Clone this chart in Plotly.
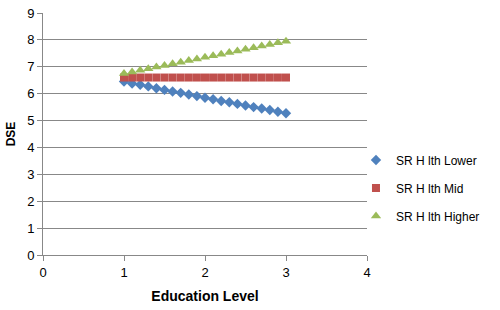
import plotly.graph_objects as go

x_vals = [1.0, 1.1, 1.2, 1.3, 1.4, 1.5, 1.6, 1.7, 1.8, 1.9, 2.0, 2.1, 2.2, 2.3, 2.4, 2.5, 2.6, 2.7, 2.8, 2.9, 3.0]
lower = [6.45, 6.38, 6.33, 6.27, 6.20, 6.14, 6.08, 6.03, 5.97, 5.91, 5.85, 5.79, 5.73, 5.68, 5.62, 5.56, 5.50, 5.45, 5.39, 5.33, 5.27]
mid = [6.6] * 21
higher = [6.75, 6.81, 6.87, 6.93, 6.99, 7.05, 7.11, 7.17, 7.23, 7.29, 7.35, 7.41, 7.47, 7.53, 7.59, 7.65, 7.71, 7.77, 7.83, 7.89, 7.95]

fig = go.Figure()
fig.add_trace(go.Scatter(x=x_vals, y=lower, mode="markers", name="SR H lth Lower", legendgroup="a",
                         marker=dict(symbol="diamond", size=8, color="#4F81BD")))
fig.add_trace(go.Scatter(x=x_vals, y=mid, mode="markers", name="SR H lth Mid", legendgroup="b",
                         marker=dict(symbol="square", size=8, color="#C0504D")))
fig.add_trace(go.Scatter(x=x_vals, y=higher, mode="markers", name="SR H lth Higher", legendgroup="c",
                         marker=dict(symbol="triangle-up", size=9, color="#9BBB59")))

fig.update_layout(
    width=500, height=310, autosize=False,
    margin=dict(l=43, r=133, t=13, b=55),
    paper_bgcolor="white", plot_bgcolor="white",
    font=dict(family="Liberation Sans, Arial", size=12, color="#000"),
    legend=dict(x=0.966, y=0.277, yanchor="middle", xanchor="left",
                font=dict(size=12), tracegroupgap=9, itemsizing="trace",
                bgcolor="rgba(0,0,0,0)"),
    xaxis=dict(range=[0, 4], dtick=1, showgrid=False, showline=True, linecolor="#888",
               ticks="outside", ticklen=5, tickcolor="#888", zeroline=False, automargin=False,
               tickfont=dict(size=13),
               title=dict(text="<b>Education Level</b>", font=dict(size=14), standoff=12)),
    yaxis=dict(range=[0, 9], dtick=1, showgrid=True, gridcolor="#888", gridwidth=1,
               showline=True, linecolor="#888", ticks="outside", ticklen=5, tickcolor="#888",
               zeroline=False, automargin=False, tickfont=dict(size=13),
               title=dict(text="<b>DSE</b>", font=dict(size=12), standoff=8)),
)

post = ("document.body.style.margin='0';document.body.style.overflow='hidden';"
        "Plotly.Plots.resize(document.getElementById('{plot_id}'));")
fig.write_html("out.html", config={"responsive": False, "displayModeBar": False}, post_script=post)
